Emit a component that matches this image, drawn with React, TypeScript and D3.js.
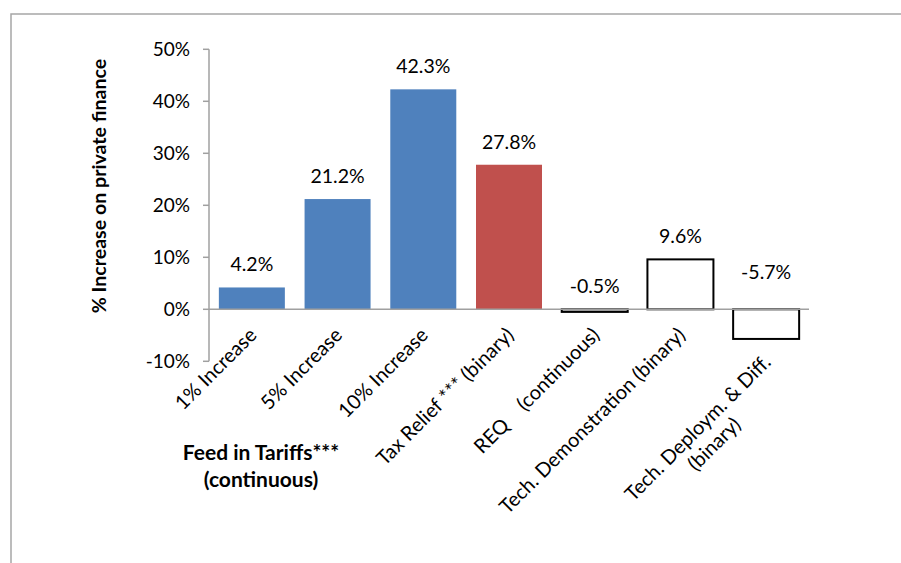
import React, { useEffect, useRef } from "react";
import * as d3 from "d3";

const categories: string[][] = [
  ["1% Increase"],
  ["5% Increase"],
  ["10% Increase"],
  ["Tax Relief *** (binary)"],
  ["REQ    (continuous)"],
  ["Tech. Demonstration (binary)"],
  ["Tech. Deploym. & Diff.", "(binary)"],
];
const values: number[] = [4.2, 21.2, 42.3, 27.8, -0.5, 9.6, -5.7];
const groups: string[] = ["fit", "fit", "fit", "tax", "other", "other", "other"];
const valueLabels: string[] = ["4.2%", "21.2%", "42.3%", "27.8%", "-0.5%", "9.6%", "-5.7%"];
const yTicks: number[] = [-10, 0, 10, 20, 30, 40, 50];
const yTitle = "% Increase on private finance";
const groupTitle: string[] = ["Feed in Tariffs***", "(continuous)"];

const W = 901;
const H = 563;
const FONT = "Lato, 'Open Sans', sans-serif";

export default function App() {
  const ref = useRef<SVGSVGElement | null>(null);

  useEffect(() => {
    const svg = d3.select(ref.current);
    svg.selectAll("*").remove();

    const x = d3
      .scaleBand<number>()
      .domain(d3.range(values.length))
      .range([209, 809])
      .paddingInner(0.23)
      .paddingOuter(0.115);
    const y = d3.scaleLinear().domain([-10, 50]).range([361.3, 49.3]);
    const y0 = y(0);

    // frame
    svg
      .append("rect")
      .attr("x", 11)
      .attr("y", 14)
      .attr("width", 1200)
      .attr("height", 1200)
      .attr("fill", "#fff")
      .attr("stroke", "#a6a6a6")
      .attr("stroke-width", 1.5);

    const fill: Record<string, string> = { fit: "#4F81BD", tax: "#C0504D", other: "#ffffff" };
    const stroke: Record<string, string> = { fit: "none", tax: "none", other: "#000" };

    // bars
    svg
      .append("g")
      .selectAll("rect")
      .data(values)
      .join("rect")
      .attr("x", (_, i) => x(i)!)
      .attr("width", x.bandwidth())
      .attr("y", (v) => y(Math.max(v, 0)))
      .attr("height", (v) => Math.abs(y(v) - y0))
      .attr("fill", (_, i) => fill[groups[i]])
      .attr("stroke", (_, i) => stroke[groups[i]])
      .attr("stroke-width", 2);

    // y axis
    const ax = svg.append("g").attr("stroke", "#a0a0a0").attr("stroke-width", 1.5);
    ax.append("line").attr("x1", 209).attr("x2", 209).attr("y1", y(50)).attr("y2", y(-10));
    ax.append("line").attr("x1", 209).attr("x2", 809).attr("y1", y0).attr("y2", y0);
    ax.selectAll("line.tick")
      .data(yTicks)
      .join("line")
      .attr("class", "tick")
      .attr("x1", 203)
      .attr("x2", 209)
      .attr("y1", (d) => y(d))
      .attr("y2", (d) => y(d));

    svg
      .append("g")
      .selectAll("text")
      .data(yTicks)
      .join("text")
      .attr("x", 190)
      .attr("y", (d) => y(d))
      .attr("dy", "0.35em")
      .attr("text-anchor", "end")
      .attr("font-family", FONT)
      .attr("font-size", 19)
      .attr("fill", "#000")
      .text((d) => `${d}%`);

    // value labels
    const labelLift = (v: number, i: number) => (i === 6 ? y0 - 37 : y(Math.max(v, 0)) - 23);
    svg
      .append("g")
      .selectAll("text")
      .data(values)
      .join("text")
      .attr("x", (_, i) => x(i)! + x.bandwidth() / 2)
      .attr("y", (v, i) => labelLift(v, i))
      .attr("dy", "0.35em")
      .attr("text-anchor", "middle")
      .attr("font-family", FONT)
      .attr("font-size", 19.5)
      .attr("fill", "#000")
      .text((_, i) => valueLabels[i]);

    // category labels
    categories.forEach((lines, i) => {
      const cx = x(i)! + x.bandwidth() / 2;
      const g = svg
        .append("g")
        .attr("transform", `translate(${cx + 6},${y0 + 27 + (lines.length - 1) * 27}) rotate(-45)`)
        .attr("font-family", FONT)
        .attr("font-size", 20)
        .attr("fill", "#000");
      const t1 = g
        .append("text")
        .attr("text-anchor", "end")
        .style("white-space", "pre")
        .attr("xml:space", "preserve")
        .text(lines[0]);
      if (lines.length > 1) {
        const w1 = (t1.node() as SVGTextElement).getComputedTextLength();
        g.append("text")
          .attr("x", -w1 / 2)
          .attr("y", 23)
          .attr("text-anchor", "middle")
          .text(lines[1]);
      }
    });

    // group title
    svg
      .append("g")
      .selectAll("text")
      .data(groupTitle)
      .join("text")
      .attr("x", 261)
      .attr("y", (_, i) => 453 + i * 27)
      .attr("dy", "0.35em")
      .attr("text-anchor", "middle")
      .attr("font-family", FONT)
      .attr("font-weight", "bold")
      .attr("font-size", 21)
      .attr("fill", "#000")
      .text((d) => d);

    // y title
    svg
      .append("text")
      .attr("transform", `translate(99,186) rotate(-90)`)
      .attr("dy", "0.35em")
      .attr("text-anchor", "middle")
      .attr("font-family", FONT)
      .attr("font-weight", "bold")
      .attr("font-size", 19.6)
      .attr("fill", "#000")
      .text(yTitle);
  }, []);

  return (
    <svg
      ref={ref}
      width={W}
      height={H}
      style={{ position: "absolute", left: 0, top: 0, display: "block", background: "#fff" }}
    />
  );
}
